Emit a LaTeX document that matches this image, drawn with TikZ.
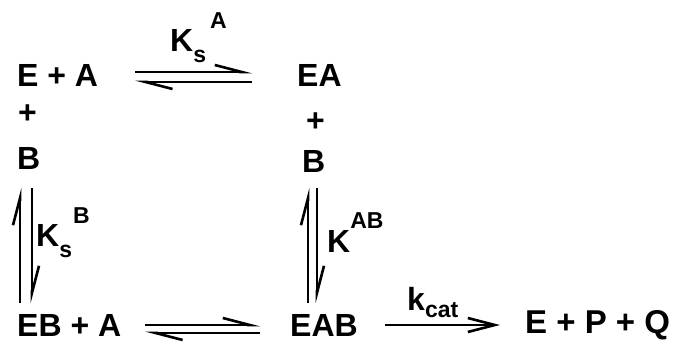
\documentclass[tikz,border=0pt]{standalone}
\usepackage{fontspec}
\setmainfont{Liberation Sans}
\usetikzlibrary{arrows.meta}
\newcommand{\subtxt}[2][9pt]{\raisebox{-#1}{\fontsize{23}{26}\selectfont #2}}
\newcommand{\suptxt}[2][23pt]{\raisebox{#1}{\fontsize{23}{26}\selectfont #2}}
\begin{document}
\begin{tikzpicture}[x=1pt, y=-1pt,
    sp/.style={anchor=base west, inner sep=0pt, font=\fontsize{32}{38}\selectfont\bfseries},
    harp/.style={line width=2.6pt, -{Straight Barb[harpoon,length=27pt,width=14pt]}},
    fwd/.style={line width=2.6pt, -{Straight Barb[length=27pt,width=14pt]}}]
      \useasboundingbox (0,0) rectangle (675,343);

      \node [sp] (ea0)  at (17,86)  {E + A};
      \node [sp] (pl0)  at (18,123) {+};
      \node [sp] (bl)   at (17,169) {B};
      \node [sp] (ea1)  at (297,86) {EA};
      \node [sp] (pl1)  at (306,131) {+};
      \node [sp] (br)   at (302,172) {B};
      \node [sp] (eba)  at (17,336) {EB + A};
      \node [sp] (eab)  at (290,336) {EAB};
      \node [sp,font=\fontsize{33}{38}\selectfont\bfseries] (epq) at (525,333) {E + P + Q};

      \node [sp] (ksa)  at (170,51)  {K\subtxt[11pt]{s}\hspace{4pt}\suptxt{A}};
      \node [sp] (ksb)  at (36,246)  {K\subtxt[11pt]{s}\hspace{1pt}\suptxt{B}};
      \node [sp] (kab)  at (327,252) {K\suptxt[24pt]{AB}};
      \node [sp] (kcat) at (407,310) {k\subtxt[7pt]{cat}};

      \draw [harp,shorten <=37pt,shorten >=45pt] ([yshift=14pt]ea0.base east) to ([yshift=14pt]ea1.base west);
      \draw [harp,shorten <=45pt,shorten >=37pt] ([yshift=4pt]ea1.base west) to ([yshift=4pt]ea0.base east);

      \draw [harp,shorten <=33pt,shorten >=19pt] ([xshift=3pt]eba.base west) to ([xshift=3pt]eba.base west |- bl.base);
      \draw [harp,shorten <=19pt,shorten >=33pt] ([xshift=15pt]eba.base west |- bl.base) to ([xshift=15pt]eba.base west);

      \draw [harp,shorten <=33pt,shorten >=16pt] ([xshift=18pt]eab.base west) to ([xshift=18pt]eab.base west |- br.base);
      \draw [harp,shorten <=16pt,shorten >=33pt] ([xshift=27pt]eab.base west |- br.base) to ([xshift=27pt]eab.base west);

      \draw [harp,shorten <=24pt,shorten >=30pt] ([yshift=11pt]eba.base east) to ([yshift=11pt]eab.base west);
      \draw [harp,shorten <=30pt,shorten >=24pt] ([yshift=3pt]eab.base west) to ([yshift=3pt]eba.base east);

      \draw [fwd,shorten <=27pt,shorten >=25pt] ([yshift=11pt]eab.base east) to ([yshift=11pt]eab.base east -| epq.base west);
\end{tikzpicture}
\end{document}
